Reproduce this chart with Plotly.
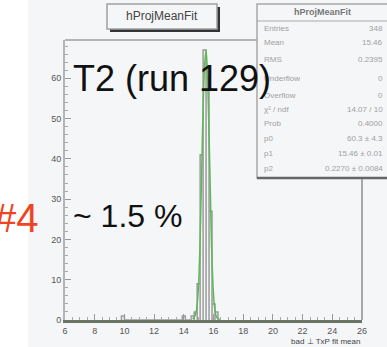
import plotly.graph_objects as go

# ---- data ----
bin_centers = [9.9, 14.0, 14.6, 14.8, 15.0, 15.2, 15.4, 15.6, 15.8, 16.0, 16.2, 16.4]
bin_counts  = [1,   1,    1,    2,    9,    41,   67,   60,   27,   4,    2,    0]
fit_x = [14.6, 14.8, 14.95, 15.1, 15.25, 15.4, 15.5, 15.6, 15.75, 15.9, 16.05, 16.2, 16.4]
fit_y = [0.2,  1.5,  6,     20,   45,    63,   67,   60,   38,    15,   4,     0.8,  0.1]
x_ticks = [6, 8, 10, 12, 14, 16, 18, 20, 22, 24, 26]
y_ticks = [0, 10, 20, 30, 40, 50, 60]
stats_labels = ["Entries", "Mean", "RMS", "Underflow", "Overflow", "χ² / ndf", "Prob", "p0", "p1", "p2"]
stats_values = ["348", "15.46", "0.2395", "0", "0", "14.07 / 10", "0.4000", "60.3 ± 4.3", "15.46 ± 0.01", "0.2270 ± 0.0084"]

W, H = 387, 347
L, R, T, B = 65, 25, 40, 27
PW, PH = W - L - R, H - T - B

def px(x):  # pixel -> paper x
    return (x - L) / PW

def py(y):  # pixel -> paper y
    return 1 - (y - T) / PH

fig = go.Figure()

# histogram as step line
hx, hy = [], []
bw = 0.2
for c, v in zip(bin_centers, bin_counts):
    hx += [c - bw / 2, c - bw / 2, c + bw / 2, c + bw / 2]
    hy += [0, v, v, 0]
fig.add_trace(go.Scatter(x=hx, y=hy, mode="lines", line=dict(color="#9a9a9a", width=1.5),
                         hoverinfo="skip", showlegend=False))
fig.add_trace(go.Scatter(x=fit_x, y=fit_y, mode="lines", line=dict(color="#5fb85a", width=1.5, shape="spline"),
                         hoverinfo="skip", showlegend=False))

bg = "#f5f6f8"
FONT = "Liberation Sans"
shapes = []
# white left strip
shapes.append(dict(type="rect", xref="paper", yref="paper", x0=px(-5), x1=px(28), y0=py(-5), y1=py(H + 5),
                   fillcolor="white", line=dict(width=0), layer="below"))
# frame top and right
shapes.append(dict(type="line", xref="paper", yref="paper", x0=0, x1=1, y0=1, y1=1,
                   line=dict(color="#b4b4b4", width=2)))
shapes.append(dict(type="line", xref="paper", yref="paper", x0=1, x1=1, y0=0, y1=1,
                   line=dict(color="#a8a8a8", width=2)))
# title box shadow and box
shapes.append(dict(type="rect", xref="paper", yref="paper", x0=px(110), x1=px(220), y0=py(32), y1=py(7),
                   fillcolor="#333333", line=dict(width=0)))
shapes.append(dict(type="rect", xref="paper", yref="paper", x0=px(107), x1=px(217), y0=py(29), y1=py(4),
                   fillcolor=bg, line=dict(color="#a0a0a0", width=1.5)))
# stats box
shapes.append(dict(type="rect", xref="paper", yref="paper", x0=px(257), x1=px(392), y0=py(178), y1=py(4),
                   fillcolor=bg, line=dict(color="#a8a8a8", width=1.5)))
shapes.append(dict(type="line", xref="paper", yref="paper", x0=px(257), x1=px(392), y0=py(178), y1=py(178),
                   line=dict(color="#666666", width=2.5)))
shapes.append(dict(type="line", xref="paper", yref="paper", x0=px(257), x1=px(392), y0=py(21), y1=py(21),
                   line=dict(color="#a8a8a8", width=1)))

def text(t, x, y, size, color, xanchor="center"):
    return dict(text=t, xref="paper", yref="paper", x=px(x), y=py(y), xanchor=xanchor, yanchor="middle",
                showarrow=False, font=dict(size=size, color=color, family=FONT))

ann = []
ann.append(text("hProjMeanFit", 162, 16, 12, "#444444"))
ann.append(text("<b>hProjMeanFit</b>", 322, 12, 9, "#777777"))
row_y = [29, 43, 60, 79, 96, 109, 123, 138, 153, 168]
for lab, val, ry in zip(stats_labels, stats_values, row_y):
    ann.append(text(lab, 262, ry, 8, "#a0a0a0", "left"))
    ann.append(text(val, 385, ry, 8, "#a0a0a0", "right"))
ann.append(text("T2 (run 129)", 71, 79, 36, "#111111", "left"))
ann.append(text("~ 1.5 %", 71, 216, 32, "#111111", "left"))
ann.append(text("#4", 41, 218, 40, "#ee4422", "right"))
ann.append(text("bad ⊥ TxP fit mean", 362, 341, 8, "#444444", "right"))

fig.update_layout(
    width=W, height=H, margin=dict(l=L, r=R, t=T, b=B),
    paper_bgcolor=bg, plot_bgcolor=bg,
    shapes=shapes, annotations=ann, showlegend=False,
    xaxis=dict(range=[6, 26], tickvals=x_ticks, ticktext=[str(v) for v in x_ticks],
               ticks="inside", ticklen=6, tickcolor="#9a9a9a", showgrid=False, zeroline=False,
               showline=True, linecolor="#6b7566", linewidth=3,
               minor=dict(dtick=0.5, ticks="inside", ticklen=3, tickcolor="#aaaaaa"),
               tickfont=dict(size=9, color="#555555", family=FONT)),
    yaxis=dict(range=[0, 69.5], tickvals=y_ticks, ticktext=[str(v) for v in y_ticks],
               ticks="inside", ticklen=6, tickcolor="#9a9a9a", showgrid=False, zeroline=False,
               showline=True, linecolor="#b4b4b4", linewidth=2,
               minor=dict(dtick=2, ticks="inside", ticklen=3, tickcolor="#aaaaaa"),
               tickfont=dict(size=9, color="#555555", family=FONT)),
)
fig.write_html("out.html")
